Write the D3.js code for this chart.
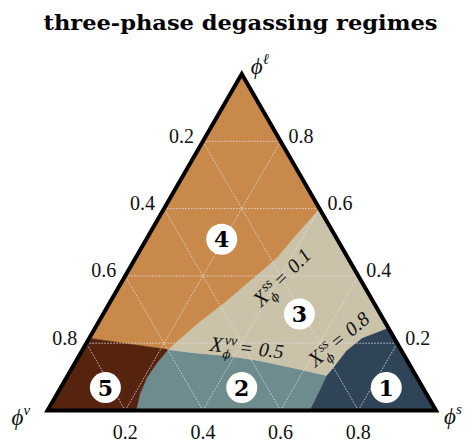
<!DOCTYPE html>
<meta charset="utf-8">
<style>
body {
    margin: 0;
    background: #fff;
}
.grid {
    fill: none;
    stroke: #e2e2e2;
    stroke-width: 0.8px;
    stroke-dasharray: 1.6 1.4;
}
.frame {
    fill: none;
    stroke: #000;
    stroke-width: 4px;
    stroke-linejoin: miter;
}
.tick {
    font-family: "Liberation Serif", "DejaVu Serif", serif;
    font-size: 20px;
    fill: #111;
}
.math {
    font-family: "Liberation Serif", "DejaVu Serif", serif;
    font-style: italic;
    fill: #111;
}
.num {
    font-family: "DejaVu Serif", serif;
    font-weight: bold;
    font-size: 22px;
    fill: #000;
}
</style>
<svg width="468" height="442"></svg>

<script src="https://cdn.jsdelivr.net/npm/d3@7"></script>
<script>
// ternary points are [phi_s, phi_l]; phi_v = 1 - phi_s - phi_l
const ticks = [0.2, 0.4, 0.6, 0.8];
const tickLabels = ['0.2', '0.4', '0.6', '0.8'];

// X_ss = 0.1 (liquid / mixed boundary), right edge -> junction
const curveSs01 = [[0.400, 0.600], [0.379, 0.524], [0.363, 0.453], [0.328, 0.385],
    [0.293, 0.317], [0.256, 0.258], [0.222, 0.187], [0.220, 0.181]];
// top of the vapour regime, junction -> left edge
const curveVapTop = [[0.220, 0.181], [0.110, 0.198], [0.000, 0.215]];
// vapour / bubbly boundary, junction -> bottom
const curveVapSide = [[0.220, 0.181], [0.211, 0.142], [0.207, 0.098], [0.213, 0.050], [0.228, 0.000]];
// X_vv = 0.5, junction -> solid corner
const curveVv05 = [[0.220, 0.181], [0.288, 0.172], [0.380, 0.163], [0.472, 0.148],
    [0.567, 0.127], [0.666, 0.104]];
// X_ss = 0.8, right edge -> solid corner
const curveSs08 = [[0.754, 0.246], [0.702, 0.216], [0.680, 0.178], [0.671, 0.124], [0.666, 0.104]];
// solid / bubbly boundary, solid corner -> bottom
const curveSolidSide = [[0.666, 0.104], [0.670, 0.059], [0.674, 0.000]];

const regimeNames = ['1', '2', '3', '4', '5'];
const regimeAt = [[0.838, 0.068], [0.466, 0.068], [0.505, 0.287], [0.194, 0.509], [0.115, 0.068]];
const regimeColors = ['#2f4557', '#6e8b8e', '#cbc2aa', '#c8894b', '#55230e'];

const noteSup = ['ss', 'vv', 'ss'];
const noteValue = ['0.1', '0.5', '0.8'];
const noteAt = [[0.408, 0.394], [0.421, 0.184], [0.646, 0.210]];
const noteAngle = [-45, 6, -40];

const svg = d3.select('svg');
const x0 = 47.5, side = 388.5, base = 410.5;
const hx = d3.scaleLinear().domain([0, 1]).range([x0, x0 + side]);
const hy = d3.scaleLinear().domain([0, 1]).range([base, base - side * Math.sqrt(3) / 2]);
const proj = p => [hx(p[0] + p[1] / 2), hy(p[1])];
const line = d3.line().x(d => proj(d)[0]).y(d => proj(d)[1]);
const rev = a => a.slice().reverse();

svg.append('text')
    .attr('x', 240.5).attr('y', 30)
    .attr('text-anchor', 'middle')
    .attr('font-family', '"DejaVu Serif", serif')
    .attr('font-weight', 'bold')
    .attr('font-size', 20)
    .attr('textLength', 394)
    .attr('lengthAdjust', 'spacingAndGlyphs')
    .text('three-phase degassing regimes');

// regime polygons, in the order of regimeNames
const polys = [
    [[1, 0]].concat(rev(curveSolidSide), rev(curveSs08)),
    [[0.228, 0]].concat(rev(curveVapSide), curveVv05, curveSolidSide),
    [[0.4, 0.6]].concat(curveSs08, rev(curveVv05), rev(curveSs01)),
    [[0, 1]].concat(curveSs01, curveVapTop),
    [[0, 0]].concat(rev(curveVapTop), curveVapSide),
];

svg.append('g')
    .selectAll('path')
    .data(polys)
    .enter().append('path')
        .attr('d', d => line(d) + 'Z')
        .attr('fill', (d, i) => regimeColors[i])
        .attr('stroke', (d, i) => regimeColors[i])
        .attr('stroke-width', 0.5);

// grid: constant phi_l, constant phi_s, constant phi_v
const gridLines = [];
ticks.forEach(t => {
    gridLines.push([[0, t], [1 - t, t]]);
    gridLines.push([[t, 0], [t, 1 - t]]);
    gridLines.push([[1 - t, 0], [0, 1 - t]]);
});
svg.append('g')
    .selectAll('path')
    .data(gridLines)
    .enter().append('path')
        .attr('class', 'grid')
        .attr('d', line);

svg.append('path')
    .attr('class', 'frame')
    .attr('d', line([[0, 0], [1, 0], [0, 1]]) + 'Z');

// tick labels
const tk = svg.append('g').attr('class', 'tick');
ticks.forEach((t, i) => {
    const b = proj([t, 0]);
    tk.append('text').attr('x', b[0]).attr('y', b[1] + 28)
        .attr('text-anchor', 'middle').text(tickLabels[i]);
    const l = proj([0, 1 - t]);
    tk.append('text').attr('x', l[0] - 9).attr('y', l[1] + 1.5)
        .attr('text-anchor', 'end').text(tickLabels[i]);
    const r = proj([1 - t, t]);
    tk.append('text').attr('x', r[0] + 8).attr('y', r[1] + 1.5)
        .attr('text-anchor', 'start').text(tickLabels[i]);
});

// corner labels
function phi(p, dx, dy, sup) {
    const q = proj(p);
    const t = svg.append('text').attr('class', 'math')
        .attr('font-family', '"DejaVu Serif", serif')
        .attr('x', q[0] + dx).attr('y', q[1] + dy)
        .attr('font-size', 23);
    t.append('tspan').text('\u03d5');
    t.append('tspan').attr('dy', -10).attr('font-size', 15).text(sup);
}
phi([0, 1], 9, 0, '\u2113');
phi([0, 0], -36, 14, 'v');
phi([1, 0], 8, 13, 's');

// regime numbers
const nums = svg.append('g');
regimeAt.forEach((p, i) => {
    const q = proj(p);
    nums.append('circle').attr('cx', q[0]).attr('cy', q[1]).attr('r', 15.5).attr('fill', '#fff');
    nums.append('text').attr('class', 'num')
        .attr('x', q[0]).attr('y', q[1] + 8)
        .attr('text-anchor', 'middle')
        .text(regimeNames[i]);
});

// contour annotations  X_phi^sup = value
noteAt.forEach((p, i) => {
    const q = proj(p);
    const g = svg.append('g')
        .attr('transform', `translate(${q[0]},${q[1]}) rotate(${noteAngle[i]})`);
    const inner = g.append('g').attr('class', 'math');
    let cx = 0;
    const X = inner.append('text').attr('x', 0).attr('font-size', 21).text('X');
    cx += X.node().getComputedTextLength() + 0.5;
    const sp = inner.append('text').attr('x', cx + 1).attr('y', -8).attr('font-size', 14).text(noteSup[i]);
    const sb = inner.append('text').attr('x', cx).attr('y', 6)
        .attr('font-family', '"DejaVu Serif", serif').attr('font-size', 12).text('\u03d5');
    cx += Math.max(sp.node().getComputedTextLength() + 1, sb.node().getComputedTextLength()) + 4;
    const eq = inner.append('text').attr('x', cx).attr('font-size', 20);
    eq.append('tspan').attr('font-style', 'normal').text('=');
    eq.append('tspan').attr('dx', 7).text(noteValue[i]);
    cx += eq.node().getComputedTextLength() + 7;
    inner.attr('transform', `translate(${-cx / 2},6)`);
});
</script>
